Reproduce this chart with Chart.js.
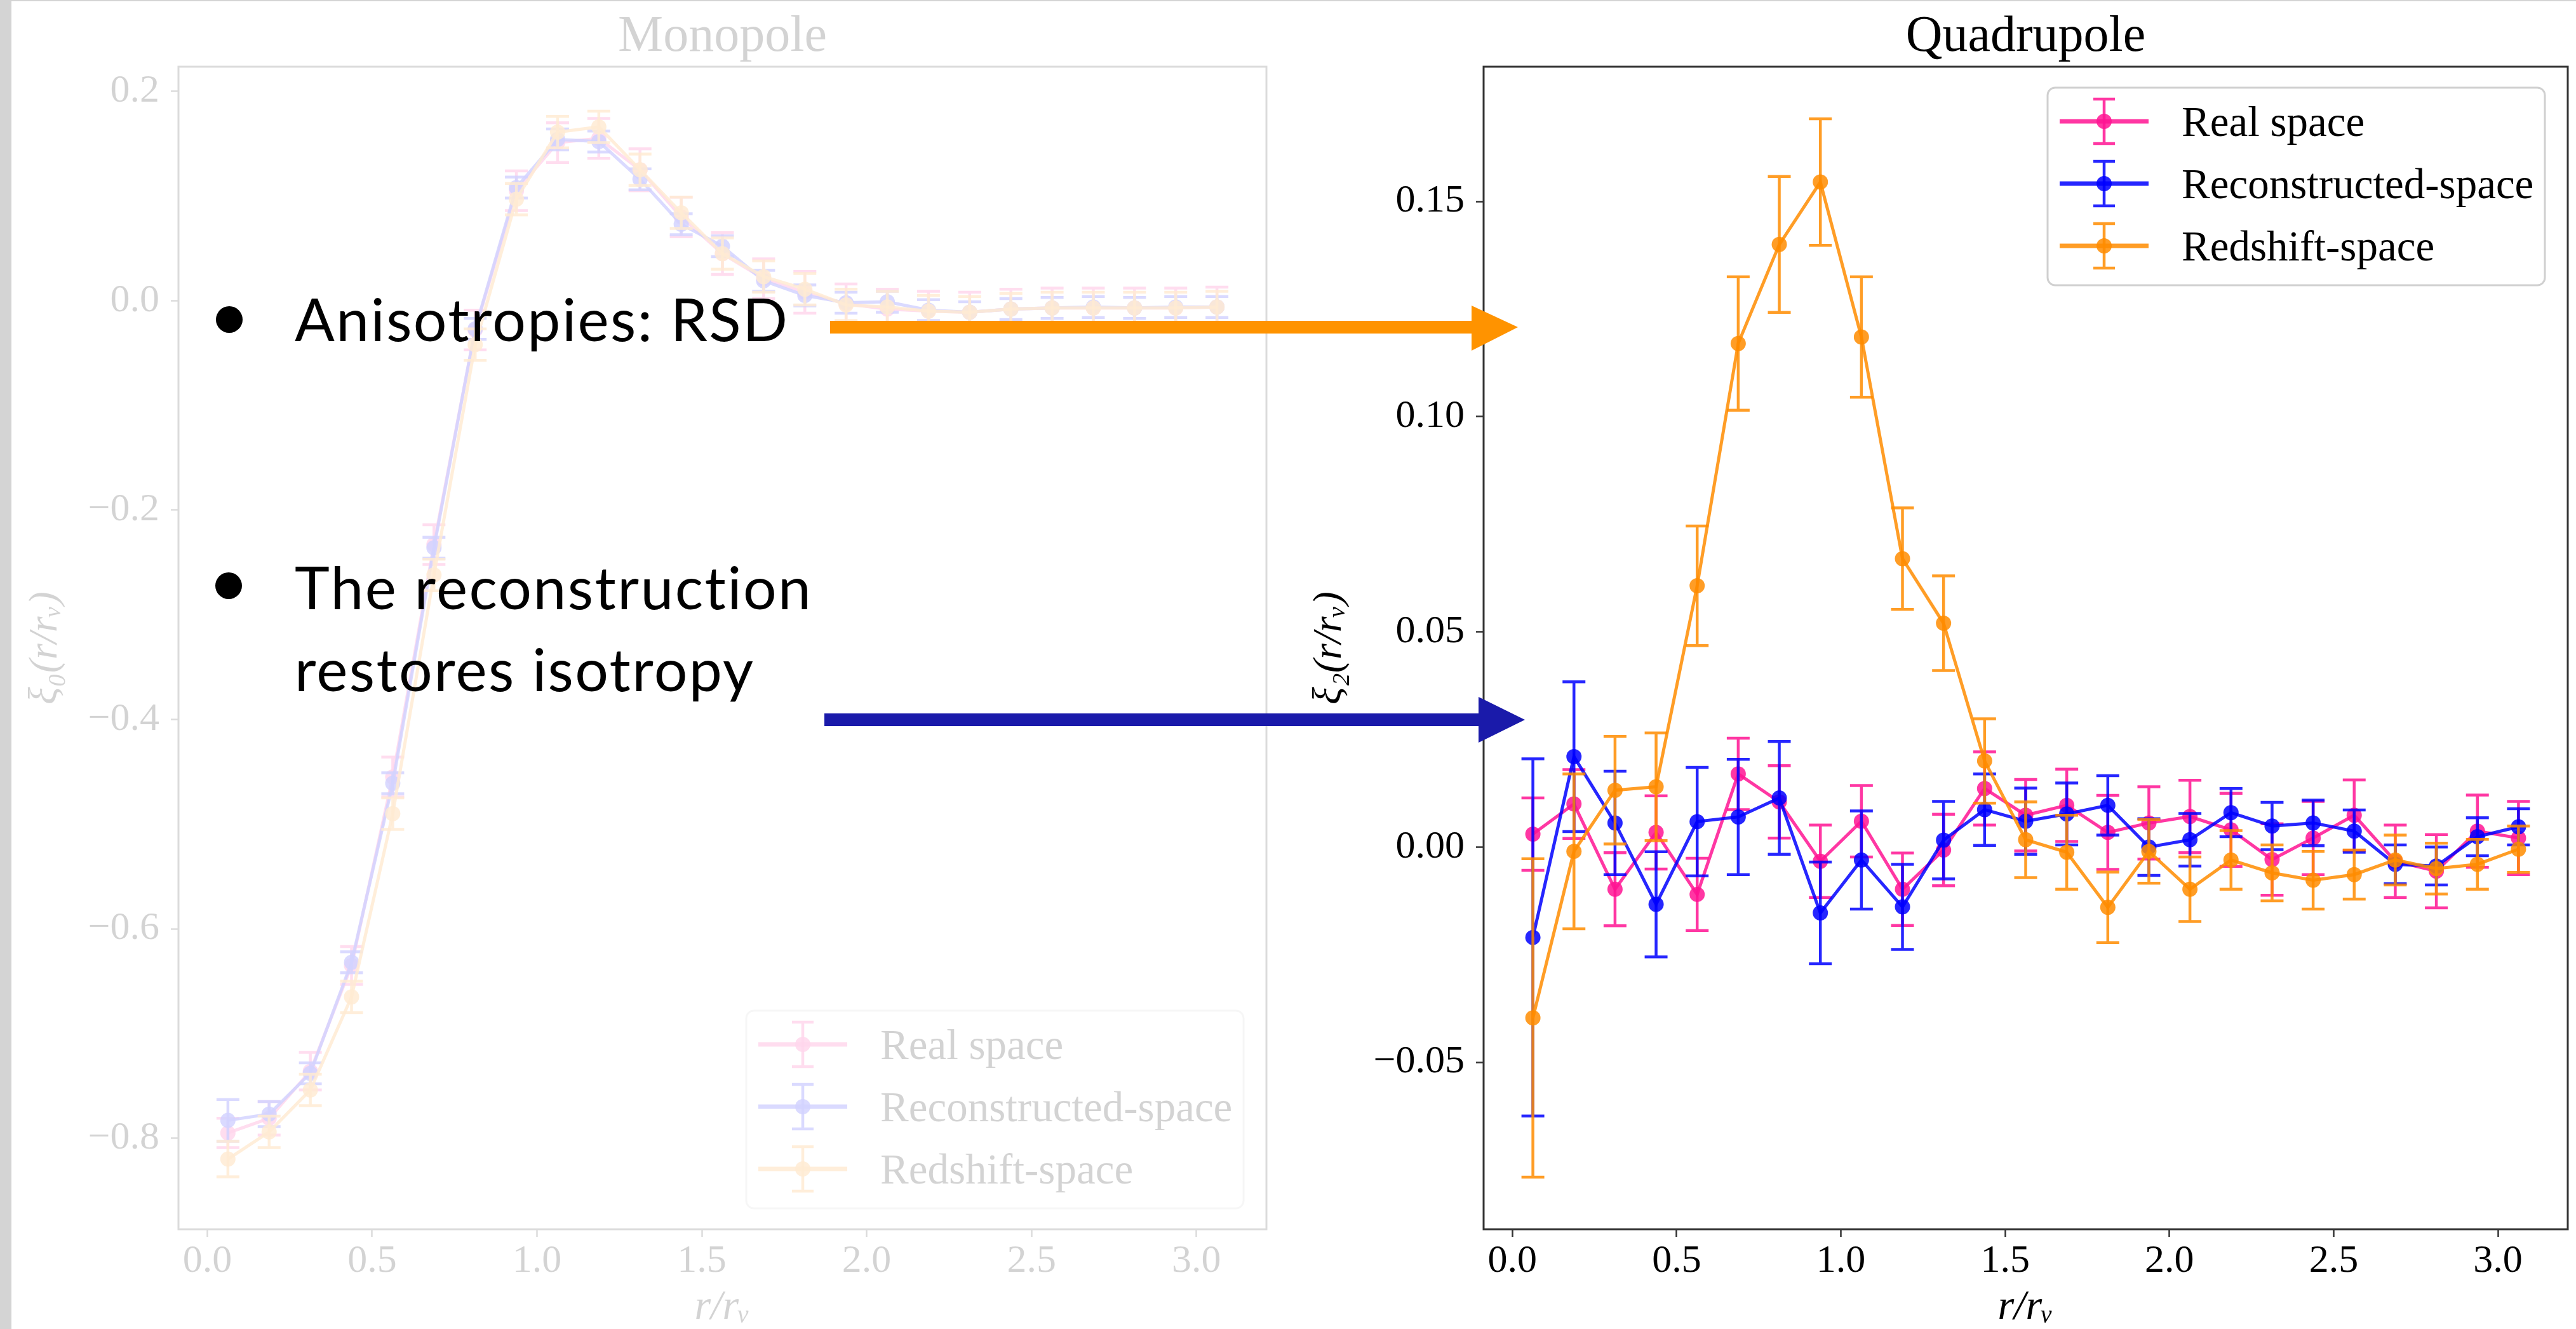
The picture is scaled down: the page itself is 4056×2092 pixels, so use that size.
<!DOCTYPE html>
<html>
<head>
<meta charset="utf-8">
<script src="https://cdn.jsdelivr.net/npm/chart.js@4.4.1/dist/chart.umd.min.js"></script>
<style>
  html, body { margin: 0; padding: 0; background: #fff; }
  body { width: 4056px; height: 2092px; overflow: hidden; position: relative; }
  canvas { position: absolute; top: 0; }
  #monopoleChart { left: 0; opacity: 0.17; }
  #quadrupoleChart { left: 2040px; }
  .edge-left { position: absolute; left: 0; top: 0; width: 18px; height: 2092px; background: #d4d4d4; z-index: 5; }
  .edge-top { position: absolute; left: 0; top: 0; width: 4056px; height: 2px; background: #d4d4d4; z-index: 5; }
  #arrows { position: absolute; left: 0; top: 0; z-index: 3; }
  .dot { position: absolute; width: 42px; height: 42px; border-radius: 50%; background: #000; z-index: 4; }
  .txt { position: absolute; font-family: Lato, "Noto Sans", sans-serif; font-size: 93px; line-height: 129px;
         letter-spacing: 2.4px; color: #000; white-space: nowrap; z-index: 4; }
</style>
</head>
<body>
<div class="edge-left"></div>
<div class="edge-top"></div>

<canvas id="monopoleChart" width="2040" height="2092"></canvas>
<canvas id="quadrupoleChart" width="2016" height="2092"></canvas>

<svg id="arrows" width="4056" height="2092">
  <rect x="1307" y="505" width="1012" height="20" fill="#ff9300"/>
  <polygon points="2317,481 2390,515 2317,552" fill="#ff9300"/>
  <rect x="1298" y="1123" width="1032" height="20" fill="#1a1aaa"/>
  <polygon points="2328,1097 2401,1133 2328,1169" fill="#1a1aaa"/>
</svg>

<div class="dot" style="left:340px; top:482px;"></div>
<div class="txt" style="left:464px; top:437px;">Anisotropies: RSD</div>
<div class="dot" style="left:339px; top:901px;"></div>
<div class="txt" style="left:464px; top:859px;">The reconstruction<br>restores isotropy</div>

<script>
const SERIF = '"Liberation Serif", "DejaVu Serif", serif';

// bin centres r/r_v
const rBins = [0.0625, 0.1875, 0.3125, 0.4375, 0.5625, 0.6875, 0.8125, 0.9375, 1.0625, 1.1875,
               1.3125, 1.4375, 1.5625, 1.6875, 1.8125, 1.9375, 2.0625, 2.1875, 2.3125, 2.4375,
               2.5625, 2.6875, 2.8125, 2.9375, 3.0625];

const seriesLabels = ['Real space', 'Reconstructed-space', 'Redshift-space'];
const seriesColors = ['rgba(255,20,147,0.85)', 'rgba(0,0,255,0.85)', 'rgba(255,140,0,0.85)'];

// monopole
const monoReal = [-0.795, -0.781, -0.736, -0.635, -0.455, -0.233, -0.028, 0.105, 0.151, 0.155,
                  0.125, 0.080, 0.045, 0.021, 0.008, -0.003, -0.008, -0.010, -0.011, -0.008,
                  -0.007, -0.007, -0.007, -0.007, -0.006];
const monoRealErr = [0.014, 0.016, 0.018, 0.018, 0.019, 0.019, 0.019, 0.019, 0.019, 0.019,
                     0.020, 0.019, 0.020, 0.019, 0.020, 0.019, 0.019, 0.019, 0.019, 0.019,
                     0.019, 0.019, 0.019, 0.019, 0.019];
const monoRecon = [-0.783, -0.777, -0.738, -0.632, -0.461, -0.236, -0.027, 0.108, 0.154, 0.152,
                   0.116, 0.073, 0.052, 0.019, 0.005, -0.002, -0.001, -0.009, -0.011, -0.008,
                   -0.007, -0.006, -0.007, -0.006, -0.006];
const monoReconErr = [0.020, 0.012, 0.010, 0.010, 0.010, 0.010, 0.010, 0.010, 0.010, 0.010,
                      0.010, 0.010, 0.010, 0.010, 0.010, 0.010, 0.010, 0.010, 0.010, 0.010,
                      0.010, 0.010, 0.010, 0.010, 0.010];
const monoRedshift = [-0.820, -0.794, -0.754, -0.665, -0.490, -0.262, -0.042, 0.097, 0.161, 0.166,
                      0.125, 0.084, 0.045, 0.023, 0.011, -0.004, -0.006, -0.010, -0.011, -0.008,
                      -0.007, -0.007, -0.007, -0.007, -0.006];
const monoRedshiftErr = [0.017, 0.015, 0.015, 0.015, 0.015, 0.015, 0.015, 0.015, 0.015, 0.015,
                         0.015, 0.015, 0.015, 0.015, 0.015, 0.015, 0.015, 0.015, 0.015, 0.015,
                         0.015, 0.015, 0.015, 0.015, 0.015];

// quadrupole
const quadReal = [0.003, 0.010, -0.0098, 0.0034, -0.011, 0.017, 0.0105, -0.0033, 0.006, -0.0098,
                  -0.0007, 0.0136, 0.0074, 0.0097, 0.0034, 0.0056, 0.0071, 0.004, -0.0029, 0.0021,
                  0.0074, -0.0033, -0.0056, 0.0037, 0.0021];
const quadRealErr = [0.0084, 0.008, 0.0085, 0.0085, 0.0084, 0.0083, 0.0084, 0.0084, 0.0083, 0.0084,
                     0.0083, 0.0085, 0.0083, 0.0084, 0.0086, 0.0084, 0.0084, 0.0085, 0.0083, 0.0085,
                     0.0082, 0.0084, 0.0085, 0.0084, 0.0085];
const quadRecon = [-0.021, 0.021, 0.0056, -0.0133, 0.0059, 0.007, 0.0114, -0.0153, -0.003, -0.0139,
                   0.0016, 0.0087, 0.006, 0.0077, 0.0097, 0.0, 0.0017, 0.008, 0.0049, 0.0056,
                   0.0037, -0.004, -0.0044, 0.0024, 0.0047];
const quadReconErr = [0.0415, 0.0174, 0.012, 0.0122, 0.0126, 0.0134, 0.0131, 0.0118, 0.0114, 0.0099,
                      0.009, 0.0083, 0.0077, 0.0072, 0.0069, 0.0066, 0.0061, 0.0056, 0.0055, 0.0053,
                      0.0049, 0.0045, 0.0044, 0.0044, 0.0042];
const quadRedshift = [-0.0397, -0.001, 0.0132, 0.014, 0.0607, 0.117, 0.140, 0.1545, 0.1185, 0.067,
                      0.052, 0.020, 0.0017, -0.0012, -0.014, -0.001, -0.0098, -0.003, -0.006, -0.0077,
                      -0.0064, -0.003, -0.005, -0.004, -0.0005];
const quadRedshiftErr = [0.037, 0.018, 0.0125, 0.0125, 0.0139, 0.0155, 0.0158, 0.0147, 0.014, 0.0118,
                         0.011, 0.0098, 0.0088, 0.0086, 0.0082, 0.0074, 0.0075, 0.0068, 0.0065, 0.0067,
                         0.0057, 0.0058, 0.0059, 0.0058, 0.0054];

// ticks
const xTicks = [0, 0.5, 1.0, 1.5, 2.0, 2.5, 3.0];
const xTickLabels = ['0.0', '0.5', '1.0', '1.5', '2.0', '2.5', '3.0'];
const monoYTicks = [-0.8, -0.6, -0.4, -0.2, 0.0, 0.2];
const monoYTickLabels = ['\u22120.8', '\u22120.6', '\u22120.4', '\u22120.2', '0.0', '0.2'];
const quadYTicks = [-0.05, 0.0, 0.05, 0.10, 0.15];
const quadYTickLabels = ['\u22120.05', '0.00', '0.05', '0.10', '0.15'];

// error bars drawn under each series' line
const errorBars = {
    id: 'errorBars',
    beforeDatasetDraw(chart, args) {
        const ds = chart.data.datasets[args.index];
        if (!ds.errors) return;
        const ctx = chart.ctx;
        const x = chart.scales.x, y = chart.scales.y;
        ctx.save();
        ctx.strokeStyle = ds.borderColor;
        ctx.lineWidth = 4.5;
        ds.data.forEach((p, i) => {
            const px = x.getPixelForValue(p.x);
            const top = y.getPixelForValue(p.y + ds.errors[i]);
            const bot = y.getPixelForValue(p.y - ds.errors[i]);
            ctx.beginPath();
            ctx.moveTo(px, top); ctx.lineTo(px, bot);
            ctx.moveTo(px - 18, top); ctx.lineTo(px + 18, top);
            ctx.moveTo(px - 18, bot); ctx.lineTo(px + 18, bot);
            ctx.stroke();
        });
        ctx.restore();
    }
};

// frame, title and legend in matplotlib style
const axesDecor = {
    id: 'axesDecor',
    afterDraw(chart, args, o) {
        const ctx = chart.ctx;
        const a = chart.chartArea;
        ctx.save();
        ctx.strokeStyle = '#333';
        ctx.lineWidth = 3;
        ctx.strokeRect(a.left, a.top, a.right - a.left, a.bottom - a.top);

        ctx.fillStyle = '#000';
        ctx.font = '80px ' + SERIF;
        ctx.textAlign = 'center';
        ctx.textBaseline = 'alphabetic';
        ctx.fillText(o.title, (a.left + a.right) / 2, 80);

        // legend box
        const w = 783, h = 311;
        const left = a.right - 36 - w;
        const top = o.legendAt === 'top' ? a.top + 33 : a.bottom - 33 - h;
        ctx.beginPath();
        const r = 12;
        ctx.moveTo(left + r, top);
        ctx.arcTo(left + w, top, left + w, top + h, r);
        ctx.arcTo(left + w, top + h, left, top + h, r);
        ctx.arcTo(left, top + h, left, top, r);
        ctx.arcTo(left, top, left + w, top, r);
        ctx.closePath();
        ctx.fillStyle = 'rgba(255,255,255,0.8)';
        ctx.fill();
        ctx.strokeStyle = '#d0d0d0';
        ctx.lineWidth = 3;
        ctx.stroke();

        chart.data.datasets.forEach((ds, i) => {
            const cx = left + 89, cy = top + 53 + i * 98;
            ctx.strokeStyle = ds.borderColor;
            ctx.lineWidth = 7;
            ctx.beginPath();
            ctx.moveTo(cx - 70, cy); ctx.lineTo(cx + 70, cy);
            ctx.stroke();
            ctx.lineWidth = 4.5;
            ctx.beginPath();
            ctx.moveTo(cx, cy - 35); ctx.lineTo(cx, cy + 35);
            ctx.moveTo(cx - 17, cy - 35); ctx.lineTo(cx + 17, cy - 35);
            ctx.moveTo(cx - 17, cy + 35); ctx.lineTo(cx + 17, cy + 35);
            ctx.stroke();
            ctx.fillStyle = ds.borderColor;
            ctx.beginPath();
            ctx.arc(cx, cy, 12, 0, Math.PI * 2);
            ctx.fill();
            ctx.fillStyle = '#000';
            ctx.font = '67px ' + SERIF;
            ctx.textAlign = 'left';
            ctx.fillText(ds.label, left + 211, cy + 23);
        });
        ctx.restore();
    }
};

function buildDatasets(values, errors) {
    return values.map((vals, k) => ({
        label: seriesLabels[k],
        data: rBins.map((r, i) => ({ x: r, y: vals[i] })),
        errors: errors[k],
        borderColor: seriesColors[k],
        backgroundColor: seriesColors[k],
        pointBackgroundColor: seriesColors[k],
        borderWidth: 5,
        pointRadius: 12,
        pointBorderWidth: 0,
        tension: 0,
        order: 3 - k
    }));
}

function makeChart(id, datasets, yMin, yMax, yTicks, yTickLabels, yTitle, yWidth, yPad, rightPad, title, legendAt) {
    const ctx = document.getElementById(id).getContext('2d');
    return new Chart(ctx, {
        type: 'line',
        data: { datasets: datasets },
        plugins: [errorBars, axesDecor],
        options: {
            responsive: false,
            animation: false,
            devicePixelRatio: 1,
            layout: { padding: { left: 0, right: rightPad, top: 105, bottom: 0 } },
            plugins: {
                legend: { display: false },
                tooltip: { enabled: false },
                axesDecor: { title: title, legendAt: legendAt }
            },
            scales: {
                x: {
                    type: 'linear',
                    min: -0.0875,
                    max: 3.2125,
                    afterBuildTicks: s => { s.ticks = xTicks.map(v => ({ value: v })); },
                    afterFit: s => { s.height = 157; },
                    ticks: {
                        callback: (v, i) => xTickLabels[i],
                        font: { family: SERIF, size: 62 },
                        color: '#000',
                        padding: 2,
                        maxRotation: 0,
                        autoSkip: false
                    },
                    grid: { drawOnChartArea: false, drawTicks: true, tickLength: 12, tickWidth: 2.5, tickColor: '#333' },
                    border: { display: false },
                    title: {
                        display: true,
                        text: 'r/r\u1D65',
                        color: '#000',
                        font: { family: SERIF, size: 66, style: 'italic', lineHeight: 1 },
                        padding: { top: 0, bottom: 0 }
                    }
                },
                y: {
                    type: 'linear',
                    min: yMin,
                    max: yMax,
                    afterBuildTicks: s => { s.ticks = yTicks.map(v => ({ value: v })); },
                    afterFit: s => { s.width = yWidth; },
                    ticks: {
                        callback: (v, i) => yTickLabels[i],
                        font: { family: SERIF, size: 62 },
                        color: '#000',
                        padding: 18,
                        autoSkip: false
                    },
                    grid: { drawOnChartArea: false, drawTicks: true, tickLength: 12, tickWidth: 2.5, tickColor: '#333' },
                    border: { display: false },
                    title: {
                        display: true,
                        text: yTitle,
                        color: '#000',
                        font: { family: SERIF, size: 64, style: 'italic', lineHeight: 1 },
                        padding: { top: yPad, bottom: 0 }
                    }
                }
            }
        }
    });
}

makeChart('monopoleChart',
    buildDatasets([monoReal, monoRecon, monoRedshift], [monoRealErr, monoReconErr, monoRedshiftErr]),
    -0.887, 0.2235, monoYTicks, monoYTickLabels, '\u03BE\u2080(r/r\u1D65)', 281, 40, 46, 'Monopole', 'bottom');

makeChart('quadrupoleChart',
    buildDatasets([quadReal, quadRecon, quadRedshift], [quadRealErr, quadReconErr, quadRedshiftErr]),
    -0.0888, 0.1813, quadYTicks, quadYTickLabels, '\u03BE\u2082(r/r\u1D65)', 296, 22, 13, 'Quadrupole', 'top');
</script>
</body>
</html>
